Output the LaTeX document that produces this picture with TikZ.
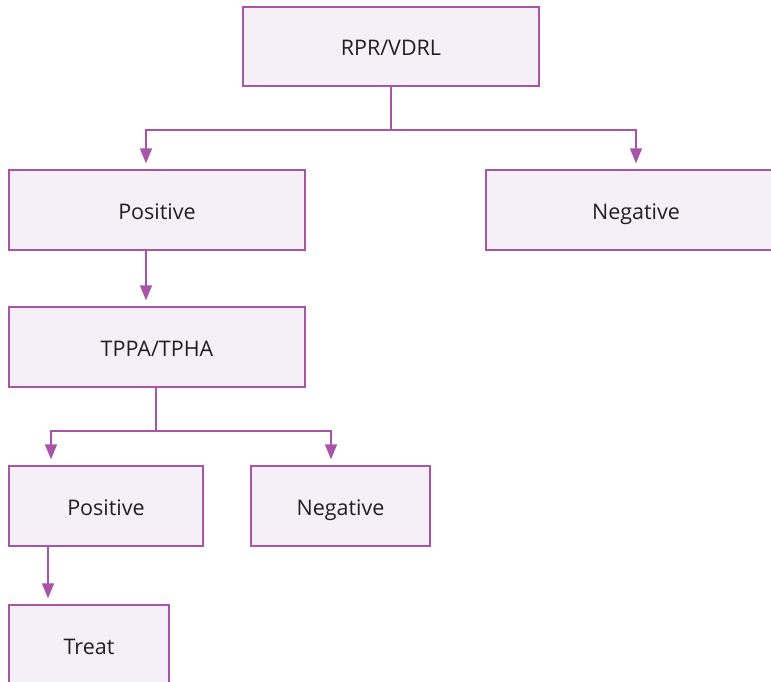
\documentclass[tikz,border=0pt]{standalone}
\usepackage{fontspec}
\setmainfont{Open Sans}
\usetikzlibrary{arrows.meta}
\definecolor{edgepurple}{HTML}{A855A8}
\definecolor{boxfill}{HTML}{F5F0F7}
\definecolor{txt}{HTML}{231F20}
\tikzset{
  box/.style={draw=edgepurple, fill=boxfill, line width=1.3pt, inner sep=0pt,
    text=txt, font=\fontsize{21.5}{24}\selectfont, text height=18.6pt, text depth=0pt},
  conn/.style={draw=edgepurple, line width=1.3pt},
  arr/.style={conn, -{Triangle[width=12pt,length=15pt]}, shorten >=6pt}
}
\begin{document}
\begin{tikzpicture}[x=1pt,y=-1pt]
\useasboundingbox (0,0) rectangle (771,681);
\clip (0,0) rectangle (771,681);
\node[box, minimum width=296pt, minimum height=79pt] (rpr) at (391,46.5) {RPR/VDRL};
\node[box, minimum width=296pt, minimum height=80pt] (pos1) at (157,210) {Positive};
\node[box, minimum width=300pt, minimum height=80pt] (neg1) at (636,210) {Negative};
\node[box, minimum width=296pt, minimum height=80pt] (tppa) at (157,347) {TPPA/TPHA};
\node[box, minimum width=194pt, minimum height=80pt] (pos2) at (106,506) {Positive};
\node[box, minimum width=179pt, minimum height=80pt] (neg2) at (340.5,506) {Negative};
\node[box, minimum width=160pt, minimum height=80pt] (treat) at (89,645) {Treat};
\coordinate (j1) at (391,130);
\coordinate (j2) at (156,431);
\draw[conn] (rpr.south) -- (j1);
\draw[arr] (j1) -| ([xshift=-11pt]pos1.north);
\draw[arr] (j1) -| (neg1.north);
\draw[arr] ([xshift=-11pt]pos1.south) -- ([xshift=-11pt]tppa.north);
\draw[conn] ([xshift=-1pt]tppa.south) -- (j2);
\draw[arr] (j2) -| ([xshift=-55pt]pos2.north);
\draw[arr] (j2) -| ([xshift=-9.5pt]neg2.north);
\draw[arr] ([xshift=-58pt]pos2.south) -- ([xshift=-41pt]treat.north);
\end{tikzpicture}
\end{document}
